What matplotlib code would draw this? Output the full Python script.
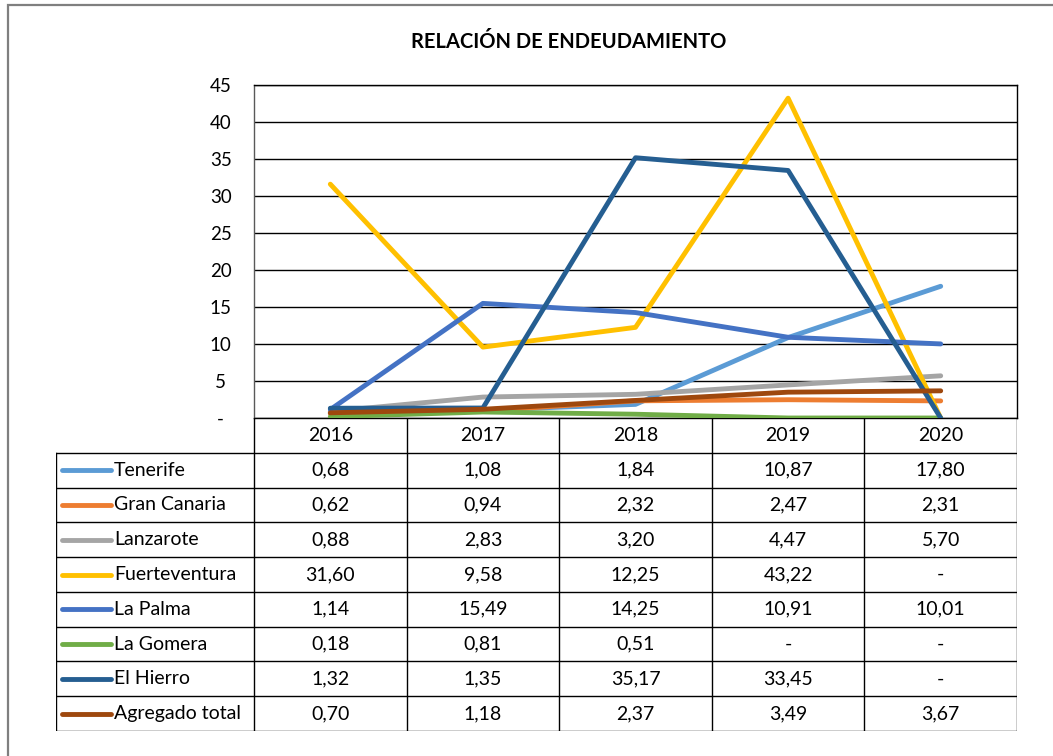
import matplotlib
matplotlib.use("Agg")
import matplotlib.pyplot as plt
from matplotlib.patches import Rectangle

plt.rcParams['font.family'] = ['Lato', 'DejaVu Sans']

# ---- data ----
years = ['2016', '2017', '2018', '2019', '2020']
series_names = ['Tenerife', 'Gran Canaria', 'Lanzarote', 'Fuerteventura',
                'La Palma', 'La Gomera', 'El Hierro', 'Agregado total']
tenerife = [0.68, 1.08, 1.84, 10.87, 17.80]
gran_canaria = [0.62, 0.94, 2.32, 2.47, 2.31]
lanzarote = [0.88, 2.83, 3.20, 4.47, 5.70]
fuerteventura = [31.60, 9.58, 12.25, 43.22, 0]
la_palma = [1.14, 15.49, 14.25, 10.91, 10.01]
la_gomera = [0.18, 0.81, 0.51, 0, 0]
el_hierro = [1.32, 1.35, 35.17, 33.45, 0]
agregado = [0.70, 1.18, 2.37, 3.49, 3.67]
all_values = [tenerife, gran_canaria, lanzarote, fuerteventura,
              la_palma, la_gomera, el_hierro, agregado]
colors = ['#5B9BD5', '#ED7D31', '#A5A5A5', '#FFC000',
          '#4472C4', '#70AD47', '#255E91', '#9E480E']
y_ticks = [0, 5, 10, 15, 20, 25, 30, 35, 40, 45]


def fmt(v):
    return '-' if v == 0 else f'{v:.2f}'.replace('.', ',')


W, H = 1053, 756
fig = plt.figure(figsize=(W / 100, H / 100), dpi=100)


def fig_rect(x0, y0, x1, y1):
    # pixel box (top-left origin) -> figure fraction
    return [x0 / W, 1 - y1 / H, (x1 - x0) / W, (y1 - y0) / H]


# outer frame
fig.patches.append(Rectangle((8 / W, -0.1), 1.2, 1 - 5 / H + 0.1,
                             transform=fig.transFigure, fill=False,
                             edgecolor='#7f7f7f', linewidth=1.6))

fig.text(569 / W, 1 - 42 / H, 'RELACIÓN DE ENDEUDAMIENTO',
         ha='center', va='center', fontsize=14.5, fontweight='bold')

FS = 14
LW = 3.5

# ---- plot area ----
plot_l, plot_r, plot_t, plot_b = 254, 1017, 85, 418
ax = fig.add_axes(fig_rect(plot_l, plot_t, plot_r, plot_b))
x = range(len(years))
for vals, c in zip(all_values, colors):
    ax.plot(x, vals, color=c, lw=LW, solid_capstyle='round',
            solid_joinstyle='round', zorder=3)
ax.set_xlim(-0.5, len(years) - 0.5)
ax.set_ylim(0, 45)
ax.set_yticks(y_ticks)
ax.set_yticklabels(['-' if t == 0 else str(t) for t in y_ticks])
ax.set_xticks([])
ax.tick_params(axis='y', length=0, labelsize=FS - 0.5, pad=24)
for t in ax.get_yticklabels():
    t.set_horizontalalignment('center')
ax.yaxis.grid(True, color='black', lw=1.0)
for s in ax.spines.values():
    s.set_color('black')
    s.set_linewidth(1.0)
ax.spines['left'].set_color('#595959')

# ---- data table ----
leg_l = 56
n_rows = len(series_names) + 1
table_b = 731
row_h = (table_b - plot_b) / n_rows
col_w = (plot_r - plot_l) / len(years)
tax = fig.add_axes(fig_rect(leg_l, plot_b, plot_r, table_b))
tax.set_xlim(leg_l, plot_r)
tax.set_ylim(table_b, plot_b)
tax.axis('off')

lk = dict(color='black', lw=1.0)
# vertical lines
for i in range(len(years) + 1):
    xv = plot_l + i * col_w
    tax.plot([xv, xv], [plot_b, table_b], **lk)
tax.plot([leg_l, leg_l], [plot_b + row_h, table_b], **lk)
# horizontal lines
for r in range(1, n_rows + 1):
    yv = plot_b + r * row_h
    tax.plot([leg_l, plot_r], [yv, yv], **lk)

# header
for i, yr in enumerate(years):
    tax.text(plot_l + (i + 0.5) * col_w, plot_b + 0.5 * row_h, yr,
             ha='center', va='center', fontsize=FS)
# rows
for r, (name, vals, c) in enumerate(zip(series_names, all_values, colors)):
    yc = plot_b + (r + 1.5) * row_h
    tax.plot([62, 111], [yc, yc], color=c, lw=LW, solid_capstyle='round')
    tax.text(114, yc, name, ha='left', va='center', fontsize=FS)
    for i, v in enumerate(vals):
        tax.text(plot_l + (i + 0.5) * col_w, yc, fmt(v),
                 ha='center', va='center', fontsize=FS)

fig.savefig('out.png', dpi=100)
